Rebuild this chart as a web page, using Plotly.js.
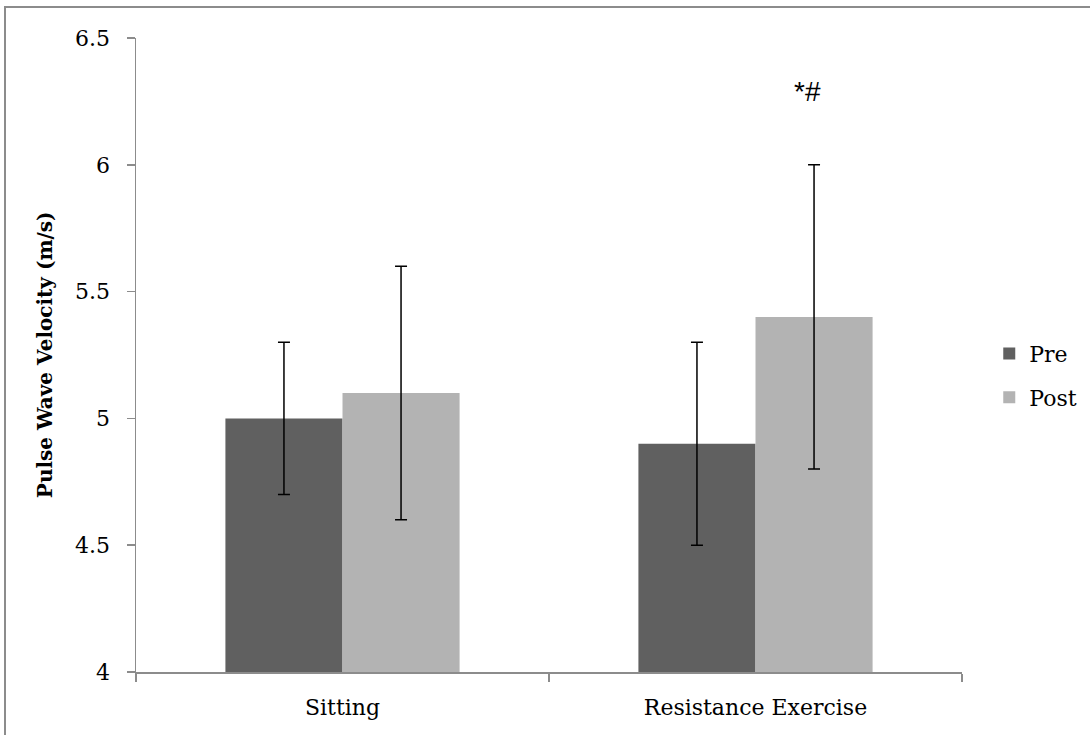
<!DOCTYPE html>
<html>
<head>
<meta charset="utf-8">
<script src="https://cdn.plot.ly/plotly-3.0.1.min.js"></script>
<style>html,body{margin:0;padding:0;background:#fff;}#chart{width:1090px;height:735px;}</style>
</head>
<body>
<div id="chart"></div>
<script>
var categories = ["Sitting", "Resistance Exercise"];
var preValues = [5.0, 4.9];
var preErrors = [0.3, 0.4];
var postValues = [5.1, 5.4];
var postErrors = [0.5, 0.6];
var seriesNames = ["Pre", "Post"];
var sigLabel = "*#";
var sigCategory = "Resistance Exercise";
var sigY = 6.29;
var yTitle = "Pulse Wave Velocity (m/s)";

var serif = "DejaVu Serif, Liberation Serif, serif";

var traces = [
  {type: "bar", name: seriesNames[0], x: categories, y: preValues,
   marker: {color: "#606060"}, legendgroup: "a",
   error_y: {type: "data", array: preErrors, visible: true, color: "#000", thickness: 1.5, width: 6}},
  {type: "bar", name: seriesNames[1], x: categories, y: postValues,
   marker: {color: "#b3b3b3"}, legendgroup: "b",
   error_y: {type: "data", array: postErrors, visible: true, color: "#000", thickness: 1.5, width: 6}}
];

var layout = {
  width: 1090, height: 735,
  margin: {l: 136, r: 128, t: 38, b: 63, autoexpand: false},
  paper_bgcolor: "#fff", plot_bgcolor: "#fff",
  barmode: "group", bargap: 0.433, bargroupgap: 0,
  showlegend: true,
  legend: {x: 1.033, xanchor: "left", y: 0.535, yanchor: "top",
           font: {family: serif, size: 22, color: "#000"},
           traceorder: "grouped", tracegroupgap: 12, itemwidth: 30},
  font: {family: serif, size: 22, color: "#000"},
  xaxis: {type: "category", showline: true, linecolor: "#8c8c8c", linewidth: 1.5,
          ticks: "outside", tickson: "boundaries", ticklen: 8, tickcolor: "#8c8c8c", tickwidth: 1.5,
          showgrid: false, zeroline: false, ticklabelstandoff: 15,
          tickfont: {family: serif, size: 22, color: "#000"}},
  yaxis: {range: [4, 6.5], dtick: 0.5, showline: true, linecolor: "#8c8c8c", linewidth: 1.5,
          ticks: "outside", ticklen: 8, tickcolor: "#8c8c8c", tickwidth: 1.5,
          showgrid: false, zeroline: false, ticklabelstandoff: 12,
          tickfont: {family: serif, size: 22, color: "#000"}},
  annotations: [
    {text: sigLabel, x: sigCategory, y: sigY, xref: "x", yref: "y", showarrow: false,
     xshift: 52, font: {family: "Liberation Sans, Arial, sans-serif", size: 28, color: "#000"}},
    {text: "<b>" + yTitle + "</b>", xref: "paper", yref: "paper", x: -0.110, y: 0.5,
     xanchor: "center", yanchor: "middle", textangle: -90, showarrow: false,
     font: {family: serif, size: 20, color: "#000"}}
  ],
  shapes: [
    {type: "rect", xref: "paper", yref: "paper", x0: -0.1586, x1: 1.2, y0: -0.2, y1: 1.0489,
     line: {color: "#8c8c8c", width: 2}, fillcolor: "rgba(0,0,0,0)", layer: "below"}
  ]
};

Plotly.newPlot("chart", traces, layout, {displayModeBar: false, staticPlot: true});
</script>
</body>
</html>
